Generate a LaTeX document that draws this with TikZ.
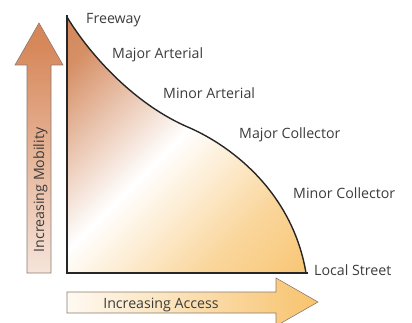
\documentclass[tikz,border=0pt]{standalone}
\usepackage{fontspec}
\setmainfont{Open Sans}
\definecolor{brownor}{HTML}{CC7440}
\definecolor{arrbrown}{HTML}{D0743F}
\definecolor{yellor}{HTML}{F6B64E}
\definecolor{txtgray}{HTML}{3C3C3C}
\definecolor{outl}{HTML}{8A7A70}
\pgfdeclarehorizontalshading{areashade}{100bp}{color(0bp)=(brownor); color(22bp)=(brownor!80!white); color(48bp)=(white); color(70bp)=(yellor!55!white); color(100bp)=(yellor)}
\pgfdeclareverticalshading{vshade}{100bp}{color(0bp)=(white); color(12bp)=(white); color(70bp)=(arrbrown!85!white); color(100bp)=(arrbrown)}
\pgfdeclarehorizontalshading{hshade}{100bp}{color(0bp)=(white); color(20bp)=(white); color(80bp)=(yellor!90!white); color(100bp)=(yellor)}
\tikzset{
  lbl/.style={text=txtgray, font=\fontsize{14.2}{16}\selectfont, inner sep=0pt},
  axisline/.style={line width=2pt, black!85},
  curveline/.style={line width=1.4pt, black!85},
  arrowshape/.style={draw=outl, line width=0.6pt, line join=miter}
}
\begin{document}
\begin{tikzpicture}[x=1pt,y=-1pt]
\useasboundingbox (0,0) rectangle (412,323);
\begin{scope}
\clip (0,0) rectangle (412,323);
% area under curve
\shade[shading=areashade, shading angle=-45]
  (67,17) .. controls (90,55) and (135,105) .. (190,128)
  .. controls (235,148) and (293,195) .. (306,273) -- (67,273) -- cycle;
\draw[curveline] (67,17) .. controls (90,55) and (135,105) .. (190,128)
  .. controls (235,148) and (293,195) .. (306,273);
% axes
\coordinate (top) at (67,16);
\coordinate (origin) at (67,273);
\coordinate (right) at (307,273);
\draw[axisline, line cap=rect] (top) -- (origin) -- (right);
% vertical arrow
\shade[arrowshape, shading=vshade]
  (27,273) -- (27,65) -- (15,65) -- (39,23) -- (63,65) -- (51,65) -- (51,273) -- cycle;
% horizontal arrow
\shade[arrowshape, shading=hshade]
  (67,292) -- (276,292) -- (276,278) -- (318,302) -- (276,326) -- (276,313) -- (67,313) -- cycle;
\end{scope}
% labels
\node[lbl, anchor=base west] (fw) at (86,24) {Freeway};
\node[lbl, anchor=base west] (maa) at (112,59) {Major Arterial};
\node[lbl, anchor=base west] (mia) at (163,99) {Minor Arterial};
\node[lbl, anchor=base west] (mac) at (239,139) {Major Collector};
\node[lbl, anchor=base west] (mic) at (293,198) {Minor Collector};
\node[lbl, anchor=base west] (ls) at (314,275) {Local Street};
\node[lbl, anchor=base] (acc) at (161,308) {Increasing Access};
\node[lbl, anchor=base, rotate=90] (mob) at (44,190) {Increasing Mobility};
\end{tikzpicture}
\end{document}
